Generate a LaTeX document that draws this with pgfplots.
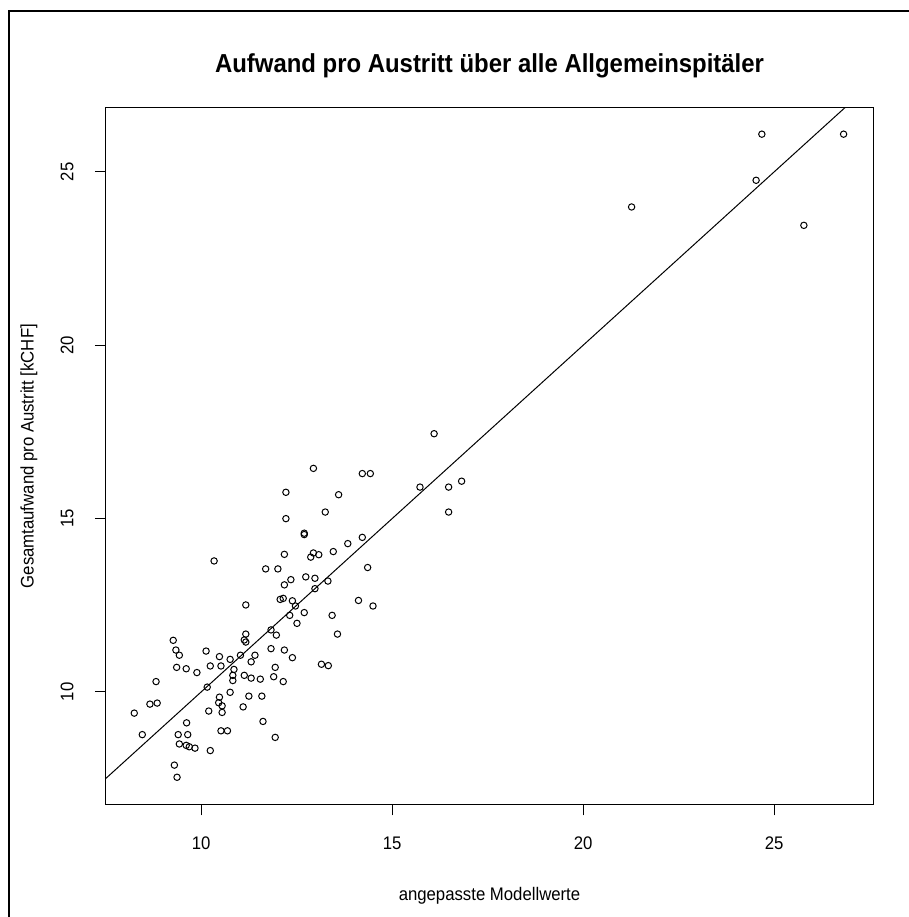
\documentclass[border=0pt]{standalone}
\usepackage{fontspec}
\setmainfont{Liberation Sans}[FakeStretch=0.92]
\usepackage{pgfplots}
\usepackage{pgfplotstable}
\pgfplotsset{compat=1.18}

% fitted values (x) against observed cost per discharge (y)
\pgfplotstableread{
x y
10.34 13.78
12.18 13.97
11.69 13.55
12.01 13.55
12.35 13.24
12.18 13.09
12.07 12.67
12.15 12.70
12.39 12.63
12.47 12.48
11.17 12.51
12.32 12.21
12.51 11.98
11.83 11.79
11.17 11.67
11.97 11.64
11.13 11.50
11.17 11.44
9.27 11.49
9.34 11.21
9.43 11.06
10.13 11.18
10.48 11.02
10.76 10.94
11.03 11.06
11.41 11.06
11.31 10.87
11.83 11.25
12.18 11.21
12.39 10.99
9.36 10.71
9.61 10.67
9.89 10.56
10.24 10.75
10.52 10.75
10.86 10.65
10.83 10.48
10.83 10.33
11.13 10.48
11.31 10.40
11.55 10.37
11.94 10.71
11.90 10.44
12.15 10.30
8.82 10.30
10.16 10.14
10.48 9.85
10.76 9.99
11.25 9.88
11.59 9.88
8.66 9.65
8.85 9.68
8.25 9.39
10.46 9.69
10.55 9.60
10.20 9.45
10.55 9.41
11.10 9.57
9.62 9.11
11.62 9.15
8.46 8.77
9.40 8.77
9.65 8.77
10.52 8.88
10.69 8.88
11.94 8.69
9.43 8.50
9.61 8.46
9.69 8.42
9.84 8.38
10.24 8.31
9.30 7.89
9.37 7.54
12.94 16.45
14.22 16.30
14.43 16.30
12.22 15.76
13.60 15.69
13.25 15.19
12.22 15.00
12.70 14.58
12.70 14.54
14.22 14.46
13.84 14.28
13.46 14.05
12.94 14.01
13.08 13.96
12.87 13.89
14.36 13.59
12.74 13.32
12.98 13.28
13.32 13.20
12.98 12.98
14.12 12.64
14.50 12.48
12.70 12.29
13.43 12.21
13.57 11.67
13.15 10.80
13.33 10.76
16.10 17.45
15.73 15.91
16.48 15.91
16.82 16.08
16.48 15.19
24.68 26.09
26.82 26.09
24.53 24.76
21.27 23.99
25.78 23.46
}\spitaeler

\begin{document}
\begin{tikzpicture}
\useasboundingbox (0,0) rectangle (454.5pt,458.5pt);
\draw[line width=1.25pt] (4.5pt,0) -- (4.5pt,453pt) -- (454.5pt,453pt);
\begin{axis}[
  at={(53pt,56.35pt)}, anchor=south west,
  scale only axis, width=383.5pt, height=348.15pt,
  xmin=7.51, xmax=27.59, ymin=6.76, ymax=26.845,
  xtick={10,15,20,25}, ytick={10,15,20,25},
  tick pos=left, tick align=outside,
  major tick length=5.5pt,
  axis line style={line width=0.5pt},
  every tick/.style={black, line width=0.5pt},
  font=\fontsize{9.1}{11}\selectfont,
  /pgf/number format/assume math mode=true,
  xticklabel style={anchor=north, inner sep=0pt},
  yticklabel style={rotate=90, anchor=south, inner sep=0pt},
  xticklabel shift=10.5pt, yticklabel shift=10.5pt,
  title={Aufwand pro Austritt über alle Allgemeinspitäler},
  every axis title shift=0pt,
  title style={font=\fontsize{13}{15}\selectfont\bfseries, at={(axis description cs:0.5,1.0603)}, anchor=center, yshift=0pt},
  xlabel={angepasste Modellwerte},
  xlabel style={at={(axis description cs:0.5,-0.132)}, anchor=center},
  ylabel={Gesamtaufwand pro Austritt [kCHF]},
  ylabel style={at={(axis description cs:-0.1004,0.5)}, anchor=center},
  clip mode=individual,
]
\addplot[black, line width=0.5pt] coordinates {(7.51,7.51) (27.59,27.59)};
\addplot[only marks, mark=o, mark size=1.6pt, mark options={line width=0.5pt, black}] table[x=x, y=y] {\spitaeler};
\end{axis}
\end{tikzpicture}
\end{document}
